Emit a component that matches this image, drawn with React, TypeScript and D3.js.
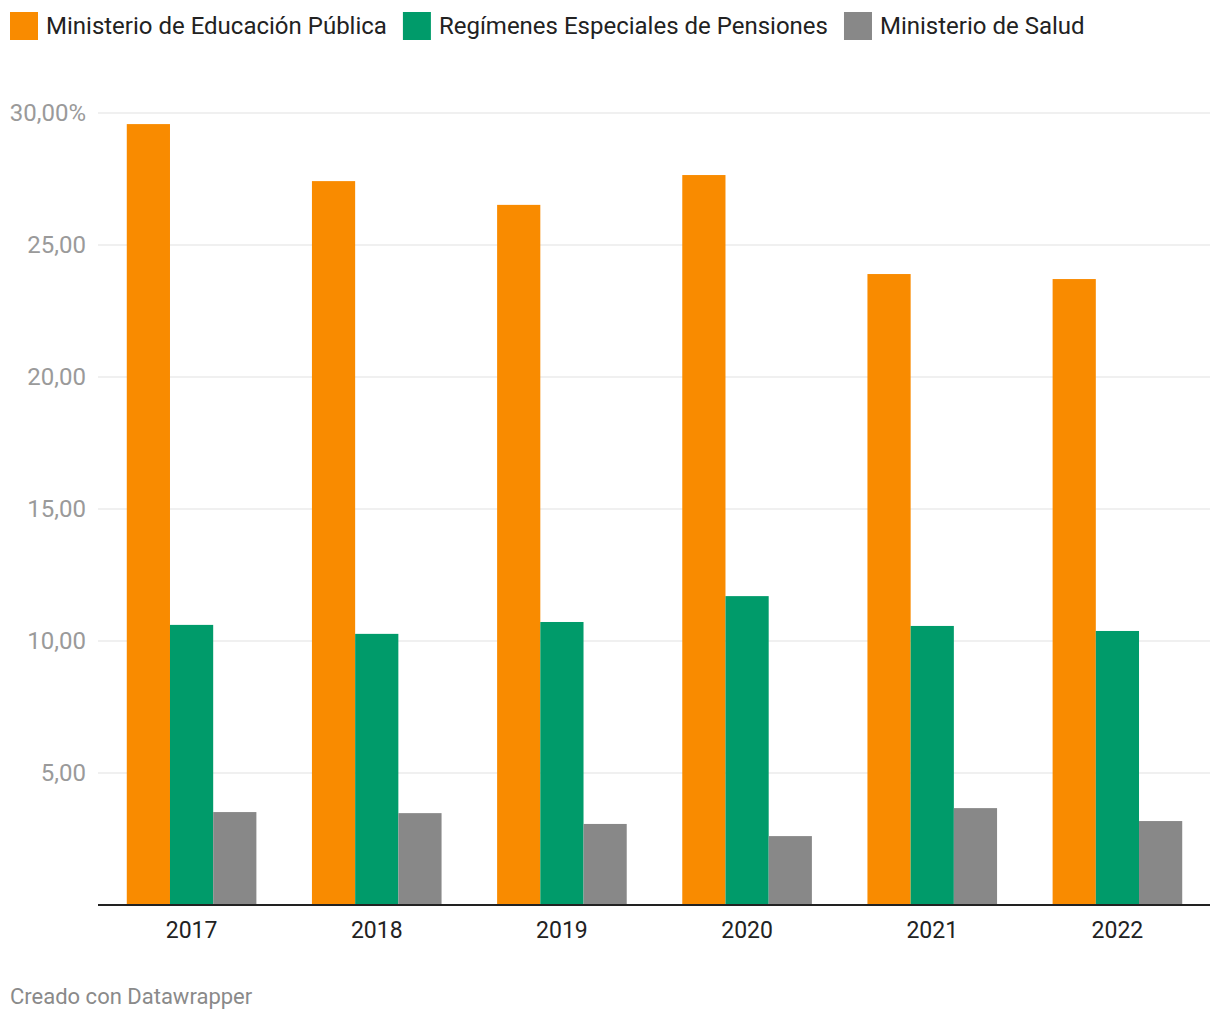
import { useEffect, useRef } from "react";
import * as d3 from "d3";

const years = ["2017", "2018", "2019", "2020", "2021", "2022"];
const seriesNames = [
  "Ministerio de Educación Pública",
  "Regímenes Especiales de Pensiones",
  "Ministerio de Salud",
];
const educacion = [29.58, 27.42, 26.52, 27.65, 23.9, 23.71];
const pensiones = [10.61, 10.27, 10.72, 11.7, 10.57, 10.38];
const salud = [3.52, 3.48, 3.07, 2.61, 3.67, 3.18];
const yTicks = [5, 10, 15, 20, 25, 30];
const colors = ["#F98B00", "#009B6A", "#888888"];

const width = 1220;
const height = 1020;

export default function App() {
  const ref = useRef(null);

  useEffect(() => {
    const svg = d3.select(ref.current);
    svg.selectAll("*").remove();

    const margin = { top: 113, right: 10, bottom: 115, left: 98 };
    const innerW = width - margin.left - margin.right;
    const plotBottom = 905;

    const y = d3.scaleLinear().domain([0, 30]).range([plotBottom, margin.top]);
    const x0 = d3
      .scaleBand()
      .domain(years)
      .range([margin.left + 1, width - margin.right])
      .paddingInner(0.3)
      .paddingOuter(0.15);
    const x1 = d3
      .scaleBand()
      .domain(seriesNames)
      .range([0, x0.bandwidth()]);

    const font = "Roboto, 'Noto Sans', sans-serif";

    // legend
    let lx = 10;
    const legend = svg.append("g");
    seriesNames.forEach((name, i) => {
      legend
        .append("rect")
        .attr("x", lx)
        .attr("y", 12)
        .attr("width", 28)
        .attr("height", 28)
        .attr("fill", colors[i]);
      const t = legend
        .append("text")
        .attr("x", lx + 36)
        .attr("y", 34)
        .attr("font-family", font)
        .attr("font-size", 24)
        .attr("fill", "#222")
        .text(name);
      const w = t.node().getComputedTextLength();
      lx = lx + 36 + w + 16;
    });

    // grid + y labels
    const grid = svg.append("g");
    yTicks.forEach((v) => {
      grid
        .append("line")
        .attr("x1", margin.left)
        .attr("x2", margin.left + innerW)
        .attr("y1", y(v))
        .attr("y2", y(v))
        .attr("stroke", "#e1e1e1")
        .attr("stroke-width", 1);
      grid
        .append("text")
        .attr("x", 86)
        .attr("y", y(v) + 8)
        .attr("text-anchor", "end")
        .attr("font-family", font)
        .attr("font-size", 24)
        .attr("fill", "#9a9a9a")
        .text(d3.format(".2f")(v).replace(".", ",") + (v === 30 ? "%" : ""));
    });

    // bars
    const data = years.map((yr, i) => ({
      year: yr,
      values: [educacion[i], pensiones[i], salud[i]],
    }));
    const groups = svg
      .append("g")
      .selectAll("g")
      .data(data)
      .join("g")
      .attr("transform", (d) => `translate(${x0(d.year)},0)`);
    groups
      .selectAll("rect")
      .data((d) => d.values.map((v, i) => ({ name: seriesNames[i], v, i })))
      .join("rect")
      .attr("x", (d) => x1(d.name))
      .attr("y", (d) => y(d.v))
      .attr("width", x1.bandwidth())
      .attr("height", (d) => plotBottom - y(d.v))
      .attr("fill", (d) => colors[d.i]);

    // x axis
    svg
      .append("line")
      .attr("x1", margin.left)
      .attr("x2", margin.left + innerW)
      .attr("y1", plotBottom)
      .attr("y2", plotBottom)
      .attr("stroke", "#222")
      .attr("stroke-width", 2);
    years.forEach((yr) => {
      svg
        .append("text")
        .attr("x", x0(yr) + x0.bandwidth() / 2)
        .attr("y", 938)
        .attr("text-anchor", "middle")
        .attr("font-family", font)
        .attr("font-size", 23)
        .attr("fill", "#222")
        .text(yr);
    });

    // footer
    svg
      .append("text")
      .attr("x", 10)
      .attr("y", 1004)
      .attr("font-family", font)
      .attr("font-size", 22)
      .attr("fill", "#8a8a8a")
      .text("Creado con Datawrapper");
  }, []);

  return (
    <svg
      ref={ref}
      width={width}
      height={height}
      style={{ position: "absolute", left: 0, top: 0, background: "#fff" }}
    />
  );
}
